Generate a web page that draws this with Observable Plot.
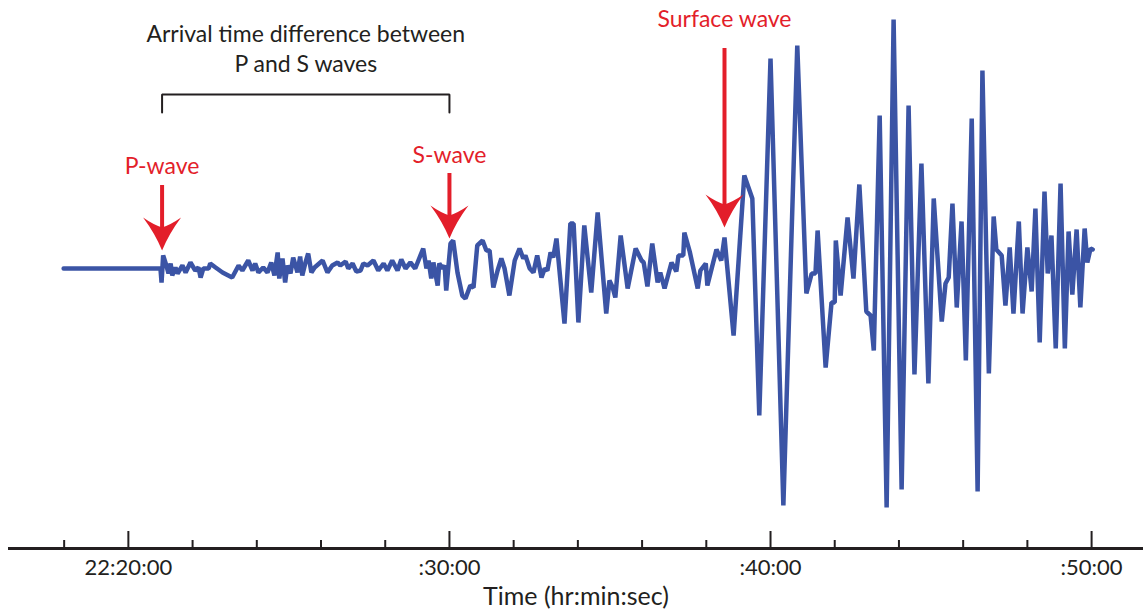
<!DOCTYPE html>
<html>
<head>
<meta charset="utf-8">
<script src="https://cdn.jsdelivr.net/npm/d3@7"></script>
<script src="https://cdn.jsdelivr.net/npm/@observablehq/plot@0.6"></script>
<style>
  html, body { margin: 0; padding: 0; background: #fff; overflow: hidden; }
</style>
</head>
<body>
<div id="chart"></div>
<script>
// Seismogram trace: seconds after 22:20:00 and ground-motion amplitude (counts)
const sampleSec = [
  -121, 60, 62, 65, 71, 75, 79, 82, 88, 92, 101, 107, 116, 125, 131, 135, 140, 150, 153, 163,
  176, 194, 206, 213, 224, 232, 237, 243, 252, 260, 267, 273, 279, 282, 288, 293, 297, 303, 308, 316,
  321, 325, 331, 336, 342, 348, 363, 372, 381, 391, 396, 406, 411, 419, 426, 434, 439, 447, 458, 467,
  477, 484, 493, 503, 510, 518, 527, 536, 542, 551, 557, 561, 566, 570, 578, 581, 587, 591, 594, 602,
  607, 615, 624, 630, 639, 645, 652, 662, 669, 675, 682, 690, 697, 703, 712, 722, 731, 738, 742, 750,
  757, 764, 772, 778, 783, 789, 794, 800, 815, 826, 832, 841, 852, 865, 877, 893, 899, 905, 910, 920,
  933, 948, 959, 963, 970, 979, 989, 994, 1002, 1015, 1024, 1028, 1037, 1039, 1049, 1064, 1069, 1079, 1082, 1099,
  1108, 1114, 1131, 1151, 1166, 1179, 1200, 1224, 1250, 1267, 1277, 1284, 1288, 1303, 1314, 1320, 1322, 1331, 1344, 1355,
  1366, 1379, 1387, 1393, 1404, 1417, 1430, 1445, 1458, 1469, 1482, 1495, 1505, 1520, 1527, 1533, 1540, 1548, 1557, 1565,
  1576, 1587, 1596, 1608, 1617, 1622, 1632, 1639, 1647, 1654, 1664, 1671, 1680, 1688, 1695, 1703, 1712, 1718, 1725, 1733,
  1742, 1750, 1757, 1764, 1772, 1779, 1787, 1792, 1798, 1802
];
const amplitude = [
  0, 0, -14, 13, 3, -5, 5, -7, 1, -5, 3, -4, 6, -2, 1, -9, 0, 0, 5, 1,
  -4, -9, 3, -2, 8, -2, 5, -4, 1, -4, 6, -7, 16, -10, 10, -14, 3, -5, 11, -4,
  12, -7, 6, 15, -4, 1, 8, -4, 3, 6, 3, 7, 0, 5, -3, -2, 5, 3, 8, -2,
  5, -2, 8, -2, 9, 0, 6, 0, 8, 20, 0, 8, -10, 6, -17, 5, 0, 3, -22, 25,
  28, -4, -27, -30, -17, -19, 23, 28, 18, 18, -19, -2, 10, 0, -27, 8, 20, 10, 13, 0,
  -4, 13, -9, 0, -2, 16, 11, 30, -55, 45, 45, -54, 43, -24, 56, -45, -12, -19, -29, 33,
  -20, 20, 8, 6, -18, 25, -14, -4, -20, 6, -3, 13, 13, 36, 17, -20, -2, 5, -17, 19,
  8, 31, -67, 93, 70, -147, 210, -237, 223, -25, -5, -5, 38, -99, -34, -34, 28, -27, 51, -10,
  84, -43, -47, -82, 153, -239, 249, -221, 163, -106, 105, -115, 70, -53, -15, -9, 65, -39, 47, -92,
  150, -223, 198, -105, 52, 19, 13, -37, 21, -45, 47, -45, 21, -23, 60, -74, 77, -5, 33, -80,
  85, -80, 37, -26, 39, -39, 40, 6, 20, 19
];

// Phase arrivals (seconds after 22:20:00)
const arrivalPhase = ["P-wave", "S-wave", "Surface wave"];
const arrivalSec = [63, 600, 1114];

// Time axis: window and tick minutes past 22:00
const windowSec = [-224, 1897];
const majorTickMin = [20, 30, 40, 50];
const minorTickMin = [18, 22, 24, 26, 28, 32, 34, 36, 38, 42, 44, 46, 48];
const axisTitle = "Time (hr:min:sec)";

const bracketTitle = ["Arrival time difference between", "P and S waves"];

// ---- build tables ----
const t0 = Date.UTC(2000, 0, 1, 22, 20, 0);
const toDate = s => new Date(t0 + s * 1000);
const atMinute = m => new Date(Date.UTC(2000, 0, 1, 22, m, 0));

const trace = sampleSec.map((s, i) => ({time: toDate(s), amp: amplitude[i]}));
const majors = majorTickMin.map(atMinute);
const minors = minorTickMin.map(atMinute);

// Callout placement (amplitude units) for each arrival arrow
const callout = {
  "P-wave":       {tip: 18, top: 83,  label: 102},
  "S-wave":       {tip: 30, top: 95,  label: 113},
  "Surface wave": {tip: 41, top: 220, label: 249}
};
const arrivals = arrivalPhase.map((name, i) => ({
  name, time: toDate(arrivalSec[i]), ...callout[name]
}));

const pTime = arrivals[0].time, sTime = arrivals[1].time;
const midTime = new Date((+pTime + +sTime) / 2);
const bracket = [
  {time: pTime, y: 156}, {time: pTime, y: 174},
  {time: sTime, y: 174}, {time: sTime, y: 156}
];
const titleLines = bracketTitle.map((text, i) => ({text, time: midTime, y: [234, 204][i]}));

// Filled, barbed arrowhead with its tip at the origin, pointing down
const arrowHead = {
  draw(context) {
    context.moveTo(0, 0);
    context.quadraticCurveTo(-7, -17, -19, -33);
    context.quadraticCurveTo(-9, -26, 0, -23);
    context.quadraticCurveTo(9, -26, 19, -33);
    context.quadraticCurveTo(7, -17, 0, 0);
    context.closePath();
  }
};

const ink = "#231f20";
const red = "#e31e2a";
const blue = "#3b54a5";
const font = "Lato, 'Open Sans', sans-serif";

const fmtFirst = d3.utcFormat("%H:%M:%S");
const fmtRest = d3.utcFormat(":%M:%S");

const chart = Plot.plot({
  width: 1143,
  height: 615,
  marginTop: 0,
  marginBottom: 67,
  marginLeft: 8,
  marginRight: 0,
  style: {fontFamily: font, color: ink, background: "#fff", overflow: "visible"},
  x: {type: "utc", domain: windowSec.map(toDate)},
  y: {domain: [-280, 268], axis: null},
  marks: [
    // time axis baseline and ticks
    Plot.ruleY([-280], {stroke: ink, strokeWidth: 3}),
    Plot.ruleX(majors, {x: d => d, y1: -280, y2: -263, stroke: ink, strokeWidth: 2}),
    Plot.ruleX(minors, {x: d => d, y1: -280, y2: -272, stroke: ink, strokeWidth: 2}),
    Plot.axisX({
      ticks: majors,
      tickSize: 0,
      tickPadding: 11,
      tickFormat: (d, i) => (i === 0 ? fmtFirst(d) : fmtRest(d)),
      fontSize: 22,
      fontFamily: font,
      fill: ink,
      label: null
    }),
    Plot.axisX({
      ticks: [],
      tickSize: 0,
      fontSize: 25,
      fontFamily: font,
      fill: ink,
      label: axisTitle,
      labelAnchor: "center",
      labelOffset: 56,
      labelArrow: "none"
    }),
    // seismogram trace
    Plot.line(trace, {x: "time", y: "amp", stroke: blue, strokeWidth: 4.5, strokeLinejoin: "miter"}),
    // P–S interval bracket and caption
    Plot.line(bracket, {x: "time", y: "y", stroke: ink, strokeWidth: 2, strokeLinejoin: "miter"}),
    Plot.text(titleLines, {x: "time", y: "y", text: "text", fontSize: 23, fontFamily: font, fill: ink, lineAnchor: "middle"}),
    // arrival arrows and labels
    Plot.ruleX(arrivals, {x: "time", y1: d => d.tip + 20, y2: "top", stroke: red, strokeWidth: 4}),
    Plot.dot(arrivals, {x: "time", y: "tip", symbol: arrowHead, fill: red, stroke: "none"}),
    Plot.text(arrivals, {x: "time", y: "label", text: "name", fontSize: 23, fontFamily: font, fill: red, lineAnchor: "middle"})
  ]
});

document.getElementById("chart").append(chart);
</script>
</body>
</html>
